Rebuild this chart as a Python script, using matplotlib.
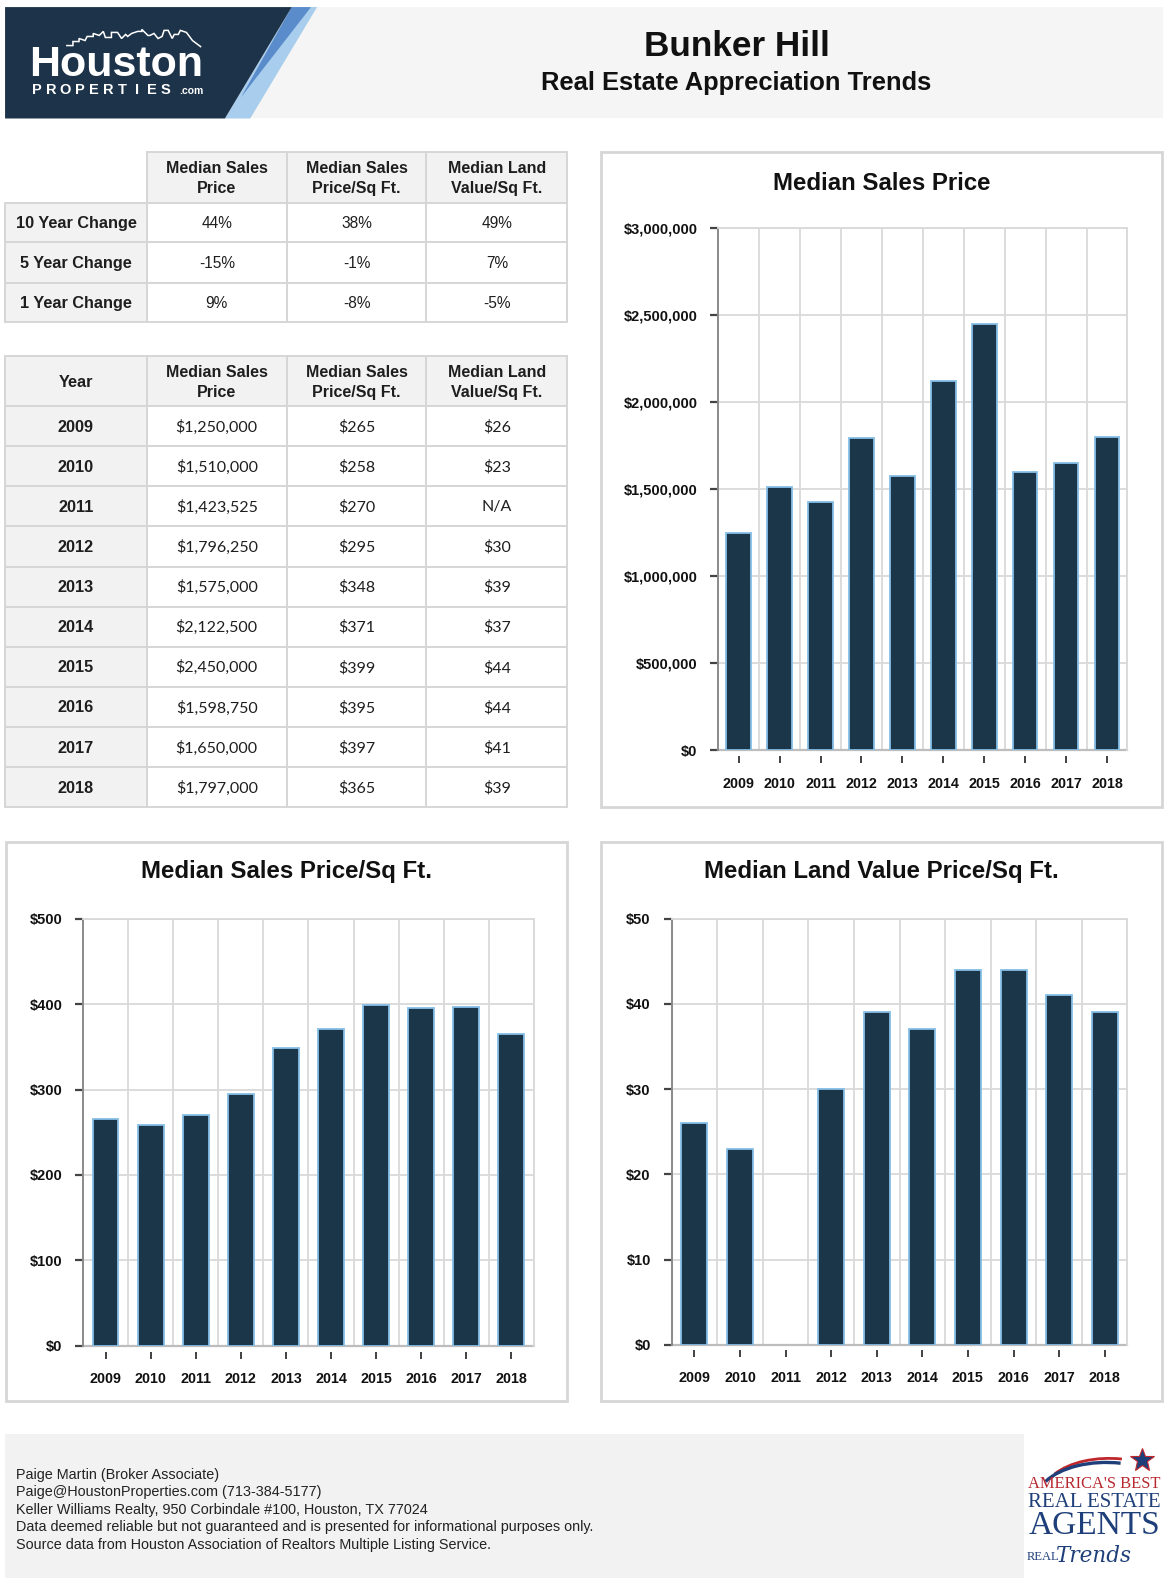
import matplotlib
matplotlib.use("Agg")
import matplotlib.pyplot as plt
from matplotlib.patches import Rectangle, Polygon, Arc
from matplotlib.ticker import FuncFormatter
import numpy as np

plt.rcParams['font.family'] = ['Liberation Sans', 'DejaVu Sans']

# ---------------- data ----------------
years = [2009, 2010, 2011, 2012, 2013, 2014, 2015, 2016, 2017, 2018]
median_price = [1250000, 1510000, 1423525, 1796250, 1575000, 2122500, 2450000, 1598750, 1650000, 1797000]
price_sqft = [265, 258, 270, 295, 348, 371, 399, 395, 397, 365]
land_sqft = [26, 23, np.nan, 30, 39, 37, 44, 44, 41, 39]

change_labels = ["10 Year Change", "5 Year Change", "1 Year Change"]
change_price = ["44%", "-15%", "9%"]
change_price_sqft = ["38%", "-1%", "-8%"]
change_land_sqft = ["49%", "7%", "-5%"]

col_headers = ["Median Sales\nPrice", "Median Sales\nPrice/Sq Ft.", "Median Land\nValue/Sq Ft."]

footer_lines = [
    "Paige Martin (Broker Associate)",
    "Paige@HoustonProperties.com (713-384-5177)",
    "Keller Williams Realty, 950 Corbindale #100, Houston, TX 77024",
    "Data deemed reliable but not guaranteed and is presented for informational purposes only.",
    "Source data from Houston Association of Realtors Multiple Listing Service.",
]

# ---------------- styles ----------------
W, H = 1168, 1588          # output pixels
Wd, Hd = 1153, 1568        # layout coordinate frame
NAVY = "#1c3649"
EDGE = "#86bfe6"
GRID = "#d9d9d9"
BORDER = "#d6d6d6"
CELLGRAY = "#f2f2f2"
TXT = "#1e1e1e"

fig = plt.figure(figsize=(W / 100, H / 100), dpi=100)
fig.patch.set_facecolor("white")
ax0 = fig.add_axes([0, 0, 1, 1])
ax0.set_xlim(0, Wd)
ax0.set_ylim(Hd, 0)
ax0.axis("off")

# ---------------- header ----------------
ax0.add_patch(Rectangle((5, 7), 1143, 110, facecolor="#f5f5f5", edgecolor="none"))
ax0.add_patch(Polygon([(288, 7), (313, 7), (247, 117), (222, 117)], closed=True,
                      facecolor="#a9cdec", edgecolor="none"))
ax0.add_patch(Polygon([(288, 7), (307, 7), (238, 96)], closed=True,
                      facecolor="#5a8ccb", edgecolor="none"))
ax0.add_patch(Polygon([(5, 7), (288, 7), (222, 117), (5, 117)], closed=True,
                      facecolor="#1c3349", edgecolor="none"))
# skyline decoration
sky_x = [66, 72, 72, 78, 78, 84, 86, 92, 92, 98, 102, 104, 110, 110, 116, 120, 124, 126, 130, 136, 140, 140,
         146, 148, 152, 156, 160, 162, 166, 170, 172, 176, 178, 184, 190, 198]
sky_y = [45, 45, 41, 41, 38, 40, 36, 36, 33, 35, 31, 37, 37, 32, 32, 38, 34, 36, 33, 31, 31, 29,
         35, 35, 33, 38, 36, 30, 30, 38, 34, 34, 30, 32, 40, 46]
ax0.plot(sky_x, sky_y, color="white", lw=1.1, solid_joinstyle="miter")
ax0.text(115, 64, "Houston", color="white", fontsize=31, fontweight="bold", ha="center", va="center")
letters = "PROPERTIES"
for i, ch in enumerate(letters):
    ax0.text(36 + i * 14.2, 89, ch, color="white", fontsize=10.5, fontweight="bold", ha="center", va="center")
ax0.text(177, 90, ".com", color="white", fontsize=7.5, fontweight="bold", ha="left", va="center")

ax0.text(727, 46, "Bunker Hill", fontsize=25.3, fontweight="bold", ha="center", va="center", color="#111")
ax0.text(727, 82, "Real Estate Appreciation Trends", fontsize=18.4, fontweight="bold",
         ha="center", va="center", color="#111")

# ---------------- tables ----------------
cols = [5, 145, 283, 421, 560]


def cell(x0, y0, x1, y1, fc):
    ax0.add_patch(Rectangle((x0, y0), x1 - x0, y1 - y0, facecolor=fc, edgecolor=BORDER, lw=1.4))


def ctext(x0, x1, y0, y1, s, bold=False, family=None, size=11):
    kw = dict(fontsize=size, ha="center", va="center", color=TXT, linespacing=1.45)
    if bold:
        kw["fontweight"] = "bold"
    if family:
        kw["family"] = family
    ax0.text((x0 + x1) / 2, (y0 + y1) / 2 + 1, s, **kw)


# table 1
t1_head = (150, 200)
t1_rows = [200, 239, 279, 318]
for j in range(3):
    cell(cols[j + 1], t1_head[0], cols[j + 2], t1_head[1], CELLGRAY)
    ctext(cols[j + 1], cols[j + 2], t1_head[0], t1_head[1], col_headers[j], bold=True, size=11.5)
for i, lab in enumerate(change_labels):
    y0, y1 = t1_rows[i], t1_rows[i + 1]
    cell(cols[0], y0, cols[1], y1, CELLGRAY)
    ctext(cols[0], cols[1], y0, y1, lab, bold=True, size=11.7)
    vals = [change_price[i], change_price_sqft[i], change_land_sqft[i]]
    for j in range(3):
        cell(cols[j + 1], y0, cols[j + 2], y1, "white")
        ctext(cols[j + 1], cols[j + 2], y0, y1, vals[j], size=11.2)

# table 2
t2_head = (352, 401)
row_h = (797 - 401) / len(years)
cell(cols[0], t2_head[0], cols[1], t2_head[1], CELLGRAY)
ctext(cols[0], cols[1], t2_head[0], t2_head[1], "Year", bold=True, size=11.7)
for j in range(3):
    cell(cols[j + 1], t2_head[0], cols[j + 2], t2_head[1], CELLGRAY)
    ctext(cols[j + 1], cols[j + 2], t2_head[0], t2_head[1], col_headers[j], bold=True, size=11.5)
for i, yr in enumerate(years):
    y0 = 401 + i * row_h
    y1 = y0 + row_h
    cell(cols[0], y0, cols[1], y1, CELLGRAY)
    ctext(cols[0], cols[1], y0, y1, str(yr), bold=True, size=11.7)
    land = "N/A" if np.isnan(land_sqft[i]) else f"${int(land_sqft[i])}"
    vals = [f"${median_price[i]:,}", f"${price_sqft[i]}", land]
    for j in range(3):
        cell(cols[j + 1], y0, cols[j + 2], y1, "white")
        ctext(cols[j + 1], cols[j + 2], y0, y1, vals[j], family=["Lato", "DejaVu Sans"], size=11.5)

# ---------------- chart panels ----------------
panels = [(593, 150, 1147, 797), (6, 831, 560, 1383), (593, 831, 1147, 1383)]
for (x0, y0, x1, y1) in panels:
    ax0.add_patch(Rectangle((x0, y0), x1 - x0, y1 - y0, facecolor="white", edgecolor=BORDER, lw=2))

titles = [("Median Sales Price", 870, 181), ("Median Sales Price/Sq Ft.", 283, 861),
          ("Median Land Value Price/Sq Ft.", 870, 861)]
for t, x, y in titles:
    ax0.text(x, y, t, fontsize=17.3, fontweight="bold", ha="center", va="center", color="#111")


def chart(l, t, r, b, vals, ymax, step, width):
    ax = fig.add_axes([l / Wd, 1 - b / Hd, (r - l) / Wd, (b - t) / Hd])
    ax.set_facecolor("white")
    ax.spines["bottom"].set_position(("outward", 4))
    ax.spines["bottom"].set_color("none")
    x = np.arange(len(years)) + 0.5
    ax.bar(x, vals, width=width, color=NAVY, edgecolor=EDGE, linewidth=1.3, zorder=3)
    ax.set_xlim(0, len(years))
    ax.set_ylim(0, ymax)
    ax.set_xticks(np.arange(0, len(years) + 1), minor=True)
    ax.set_xticks(x, [str(v) for v in years])
    ax.set_yticks(np.arange(0, ymax + step / 2, step))
    ax.yaxis.set_major_formatter(FuncFormatter(lambda v, p: f"${int(v):,}"))
    ax.grid(axis="x", which="minor", color=GRID, lw=1.3, zorder=0)
    ax.grid(axis="y", which="major", color=GRID, lw=1.3, zorder=0)
    ax.grid(axis="x", which="major", visible=False)
    ax.tick_params(axis="x", which="minor", length=0)
    ax.tick_params(axis="x", which="major", length=5, width=1.3, color="#333", pad=10,
                   labelsize=10.3, labelcolor="#111")
    ax.tick_params(axis="y", length=6, width=1.6, color="#444", pad=9, labelsize=10.5, labelcolor="#111")
    for lbl in ax.get_xticklabels() + ax.get_yticklabels():
        lbl.set_fontweight("bold")
    ax.spines["left"].set_color("#8a8a8a")
    ax.spines["left"].set_linewidth(1.4)
    for s in ("top", "right"):
        ax.spines[s].set_color(GRID)
        ax.spines[s].set_linewidth(1.3)
    ax.axhline(0, color="#bdbdbd", lw=1.6, zorder=2.5, clip_on=False)
    return ax


chart(709, 225, 1113, 741, median_price, 3000000, 500000, 0.6)
chart(82, 907, 527, 1329, price_sqft, 500, 100, 0.57)
chart(663, 907, 1113, 1328, land_sqft, 50, 10, 0.57)

# ---------------- footer ----------------
ax0.add_patch(Rectangle((5, 1416), 1143, 142, facecolor="#f2f2f2", edgecolor="none"))
for i, line in enumerate(footer_lines):
    ax0.text(16, 1456 + i * 17.3, line, fontsize=10.4, ha="left", va="center", color="#222")

# logo (bottom right)
ax0.add_patch(Rectangle((1011, 1416), 137, 142, facecolor="white", edgecolor="none"))
ax0.add_patch(Arc((1095, 1475), 130, 70, theta1=200, theta2=290, color="#c0272d", lw=2.0))
ax0.add_patch(Arc((1092, 1480), 136, 72, theta1=196, theta2=292, color="#1f3f7a", lw=2.4))
ax0.plot([1127], [1442], marker="*", markersize=18, color="#1f3f7a", markeredgecolor="#c0272d",
         markeredgewidth=0.8)
ax0.text(1080, 1465, "AMERICA'S BEST", family=["Liberation Serif", "DejaVu Serif"], fontsize=11.9,
         color="#b8262e", ha="center", va="center")
ax0.text(1080, 1484, "REAL ESTATE", family=["Liberation Serif", "DejaVu Serif"], fontsize=15,
         color="#1f3f7a", ha="center", va="center")
ax0.text(1080, 1507, "AGENTS", family=["Liberation Serif", "DejaVu Serif"], fontsize=24,
         color="#1f3f7a", ha="center", va="center")
ax0.text(1013, 1537, "REAL", family=["Liberation Serif", "DejaVu Serif"], fontsize=9,
         color="#1f3f7a", ha="left", va="center")
ax0.text(1042, 1536, "Trends", family=["DejaVu Serif"], fontsize=15.5, style="italic",
         color="#1f3f7a", ha="left", va="center")

fig.savefig("out.png", dpi=100, facecolor="white")
